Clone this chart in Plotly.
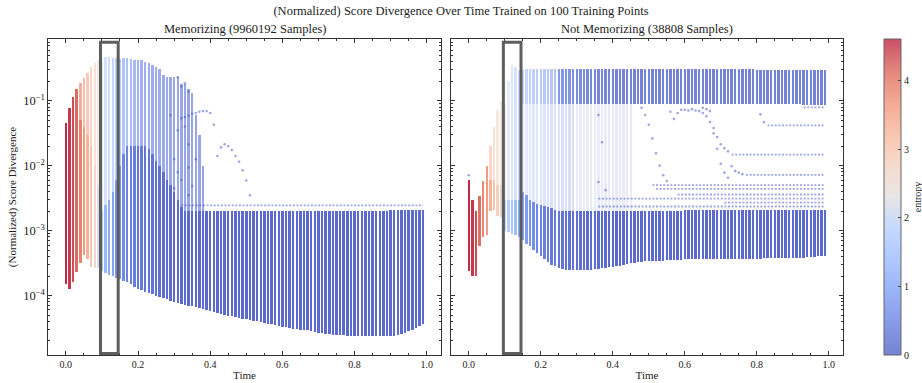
import plotly.graph_objects as go

# ---------------- data ----------------
TIME = [
    0.00, 0.01, 0.02, 0.03, 0.04, 0.05, 0.06, 0.07, 0.08, 0.09,
    0.10, 0.11, 0.12, 0.13, 0.14, 0.15, 0.16, 0.17, 0.18, 0.19,
    0.20, 0.21, 0.22, 0.23, 0.24, 0.25, 0.26, 0.27, 0.28, 0.29,
    0.30, 0.31, 0.32, 0.33, 0.34, 0.35, 0.36, 0.37, 0.38, 0.39,
    0.40, 0.41, 0.42, 0.43, 0.44, 0.45, 0.46, 0.47, 0.48, 0.49,
    0.50, 0.51, 0.52, 0.53, 0.54, 0.55, 0.56, 0.57, 0.58, 0.59,
    0.60, 0.61, 0.62, 0.63, 0.64, 0.65, 0.66, 0.67, 0.68, 0.69,
    0.70, 0.71, 0.72, 0.73, 0.74, 0.75, 0.76, 0.77, 0.78, 0.79,
    0.80, 0.81, 0.82, 0.83, 0.84, 0.85, 0.86, 0.87, 0.88, 0.89,
    0.90, 0.91, 0.92, 0.93, 0.94, 0.95, 0.96, 0.97, 0.98, 0.99,
]

# ---- Memorizing panel: dense core, sparse upper part, entropies ----
L_CORE_LO = [
    1.5e-4, 1.26e-4, 1.6e-4, 2.3e-4, 3.2e-4, 4.2e-4, 3.6e-4, 2.8e-4, 2.7e-4, 2.7e-4,
    2.35e-4, 2.2e-4, 2.1e-4, 2.0e-4, 1.85e-4, 1.8e-4, 1.7e-4, 1.6e-4, 1.5e-4, 1.35e-4,
    1.25e-4, 1.2e-4, 1.15e-4, 1.1e-4, 1.05e-4, 1.0e-4, 9.6e-5, 9.3e-5, 9.0e-5, 8.3e-5,
    8.0e-5, 7.8e-5, 7.5e-5, 7.2e-5, 7.0e-5, 6.8e-5, 6.6e-5, 6.4e-5, 6.2e-5, 6.0e-5,
    5.8e-5, 5.6e-5, 5.4e-5, 5.2e-5, 5.0e-5, 4.9e-5, 4.8e-5, 4.6e-5, 4.5e-5, 4.4e-5,
    4.3e-5, 4.2e-5, 4.1e-5, 4.0e-5, 3.9e-5, 3.8e-5, 3.7e-5, 3.6e-5, 3.5e-5, 3.4e-5,
    3.3e-5, 3.25e-5, 3.2e-5, 3.1e-5, 3.05e-5, 3.0e-5, 2.95e-5, 2.9e-5, 2.8e-5, 2.75e-5,
    2.7e-5, 2.65e-5, 2.6e-5, 2.55e-5, 2.5e-5, 2.5e-5, 2.45e-5, 2.45e-5, 2.4e-5, 2.4e-5,
    2.4e-5, 2.35e-5, 2.35e-5, 2.35e-5, 2.35e-5, 2.35e-5, 2.35e-5, 2.35e-5, 2.35e-5, 2.35e-5,
    2.4e-5, 2.4e-5, 2.5e-5, 2.6e-5, 2.7e-5, 2.85e-5, 3.0e-5, 3.2e-5, 3.4e-5, 3.7e-5,
]
L_CORE_HI = [
    0.046, 0.078, 0.116, 0.15, 0.05, 0.04, 0.03, 0.02, 0.01, 5e-3,
    2e-3, 2.5e-3, 3e-3, 4e-3, 6e-3, 0.01, 0.015, 0.02, 0.02, 0.02,
    0.02, 0.02, 0.02, 0.018, 0.015, 0.012, 0.01, 8e-3, 6e-3, 5e-3,
    4e-3, 3e-3, 2.3e-3, 2.0e-3, 2.0e-3, 2.0e-3, 2.0e-3, 2.0e-3, 2.0e-3, 2.0e-3,
    2.0e-3, 2.0e-3, 2.0e-3, 2.0e-3, 2.0e-3, 2.0e-3, 2.0e-3, 2.0e-3, 2.0e-3, 2.0e-3,
    2.0e-3, 2.0e-3, 2.0e-3, 2.0e-3, 2.0e-3, 2.0e-3, 2.0e-3, 2.0e-3, 2.0e-3, 2.0e-3,
    2.0e-3, 2.0e-3, 2.0e-3, 2.0e-3, 2.0e-3, 2.0e-3, 2.0e-3, 2.0e-3, 2.0e-3, 2.0e-3,
    2.0e-3, 2.0e-3, 2.0e-3, 2.0e-3, 2.0e-3, 2.0e-3, 2.0e-3, 2.0e-3, 2.0e-3, 2.0e-3,
    2.0e-3, 2.0e-3, 2.0e-3, 2.0e-3, 2.0e-3, 2.0e-3, 2.0e-3, 2.0e-3, 2.0e-3, 2.0e-3,
    2.05e-3, 2.05e-3, 2.05e-3, 2.05e-3, 2.05e-3, 2.05e-3, 2.05e-3, 2.05e-3, 2.05e-3, 2.05e-3,
]
L_TOP_HI = [
    0.046, 0.078, 0.116, 0.15, 0.19, 0.22, 0.27, 0.33, 0.38, 0.42,
    0.45, 0.47, 0.47, 0.46, 0.45, 0.44, 0.45, 0.45, 0.44, 0.43,
    0.42, 0.42, 0.40, 0.38, 0.36, 0.33, 0.31, 0.25, 0.23, 0.23,
    0.23, 0.23, 0.18, 0.18, 0.15, 0.13, 0.06, 0.03, 0.01, 2.0e-3,
    2.0e-3, 2.0e-3, 2.0e-3, 2.0e-3, 2.0e-3, 2.0e-3, 2.0e-3, 2.0e-3, 2.0e-3, 2.0e-3,
    2.0e-3, 2.0e-3, 2.0e-3, 2.0e-3, 2.0e-3, 2.0e-3, 2.0e-3, 2.0e-3, 2.0e-3, 2.0e-3,
    2.0e-3, 2.0e-3, 2.0e-3, 2.0e-3, 2.0e-3, 2.0e-3, 2.0e-3, 2.0e-3, 2.0e-3, 2.0e-3,
    2.0e-3, 2.0e-3, 2.0e-3, 2.0e-3, 2.0e-3, 2.0e-3, 2.0e-3, 2.0e-3, 2.0e-3, 2.0e-3,
    2.0e-3, 2.0e-3, 2.0e-3, 2.0e-3, 2.0e-3, 2.0e-3, 2.0e-3, 2.0e-3, 2.0e-3, 2.0e-3,
    2.05e-3, 2.05e-3, 2.05e-3, 2.05e-3, 2.05e-3, 2.05e-3, 2.05e-3, 2.05e-3, 2.05e-3, 2.05e-3,
]
L_ENT_CORE = [
    4.6, 4.5, 4.35, 4.15, 3.9, 3.6, 3.3, 3.0, 2.6, 2.2,
    1.5, 1.3, 1.1, 0.95, 0.8, 0.65, 0.55, 0.45, 0.4, 0.35,
    0.3, 0.28, 0.25, 0.22, 0.2, 0.18, 0.16, 0.14, 0.12, 0.1,
    0.1, 0.09, 0.08, 0.07, 0.06, 0.05, 0.05, 0.05, 0.05, 0.05,
    0.05, 0.05, 0.05, 0.05, 0.05, 0.05, 0.05, 0.05, 0.05, 0.05,
    0.05, 0.05, 0.05, 0.05, 0.05, 0.05, 0.05, 0.05, 0.05, 0.05,
    0.05, 0.05, 0.05, 0.05, 0.05, 0.05, 0.05, 0.05, 0.05, 0.05,
    0.05, 0.05, 0.05, 0.05, 0.05, 0.05, 0.05, 0.05, 0.05, 0.05,
    0.05, 0.05, 0.05, 0.05, 0.05, 0.05, 0.05, 0.05, 0.05, 0.05,
    0.05, 0.05, 0.05, 0.05, 0.05, 0.05, 0.05, 0.05, 0.05, 0.05,
]
L_ENT_TOP = [
    4.6, 4.5, 4.35, 4.15, 3.9, 3.65, 3.4, 3.1, 2.8, 2.45,
    2.1, 1.9, 1.7, 1.5, 1.3, 1.1, 0.95, 0.85, 0.75, 0.65,
    0.55, 0.5, 0.45, 0.42, 0.4, 0.38, 0.35, 0.32, 0.3, 0.28,
    0.26, 0.25, 0.24, 0.22, 0.2, 0.2, 0.2, 0.2, 0.2, 0.2,
    0.2, 0.2, 0.2, 0.2, 0.2, 0.2, 0.2, 0.2, 0.2, 0.2,
    0.2, 0.2, 0.2, 0.2, 0.2, 0.2, 0.2, 0.2, 0.2, 0.2,
    0.2, 0.2, 0.2, 0.2, 0.2, 0.2, 0.2, 0.2, 0.2, 0.2,
    0.2, 0.2, 0.2, 0.2, 0.2, 0.2, 0.2, 0.2, 0.2, 0.2,
    0.2, 0.2, 0.2, 0.2, 0.2, 0.2, 0.2, 0.2, 0.2, 0.2,
    0.2, 0.2, 0.2, 0.2, 0.2, 0.2, 0.2, 0.2, 0.2, 0.2,
]
# horizontal rows of isolated points (value, first time, last time)
L_ROW_Y = [2.45e-3]
L_ROW_T0 = [0.32]
L_ROW_T1 = [0.99]
# isolated trajectory points
L_OUT_T = [0.32, 0.33, 0.34, 0.35, 0.36, 0.37, 0.38, 0.39, 0.40, 0.41,
           0.42, 0.43, 0.44, 0.45, 0.46, 0.47, 0.48, 0.49, 0.50, 0.51,
           0.31, 0.32, 0.33, 0.34, 0.33, 0.34, 0.36, 0.34, 0.35, 0.34,
           0.30, 0.31, 0.30, 0.32, 0.31, 0.29]
L_OUT_Y = [0.0537, 0.0562, 0.0589, 0.0631, 0.0646, 0.0676, 0.0692, 0.0692, 0.0646, 0.0427,
           0.0141, 0.0191, 0.0214, 0.0200, 0.0174, 0.0141, 0.0115, 0.0085, 0.0059, 0.0035,
           0.23, 0.166, 0.186, 0.138, 0.04, 0.0214, 0.0126, 0.0093, 0.0049, 0.0035,
           0.0126, 0.0079, 0.0045, 0.006, 0.035, 0.06]

# ---- Not memorizing panel ----
R_CORE_LO = [
    2.4e-4, 2.0e-4, 2.0e-4, 5.8e-4, 8.0e-4, 8.7e-4, 2.0e-3, 2.1e-3, 1.7e-3, 1.6e-3,
    1.0e-3, 9.5e-4, 9.0e-4, 8.5e-4, 8.0e-4, 7.2e-4, 6.3e-4, 5.8e-4, 5.1e-4, 4.5e-4,
    4.0e-4, 3.6e-4, 3.3e-4, 3.0e-4, 2.85e-4, 2.7e-4, 2.6e-4, 2.5e-4, 2.5e-4, 2.5e-4,
    2.5e-4, 2.5e-4, 2.5e-4, 2.5e-4, 2.5e-4, 2.55e-4, 2.6e-4, 2.65e-4, 2.7e-4, 2.75e-4,
    2.8e-4, 2.85e-4, 2.9e-4, 3.0e-4, 3.1e-4, 3.15e-4, 3.2e-4, 3.25e-4, 3.3e-4, 3.35e-4,
    3.4e-4, 3.4e-4, 3.45e-4, 3.45e-4, 3.45e-4, 3.5e-4, 3.5e-4, 3.5e-4, 3.55e-4, 3.55e-4,
    3.6e-4, 3.6e-4, 3.6e-4, 3.6e-4, 3.6e-4, 3.6e-4, 3.6e-4, 3.6e-4, 3.6e-4, 3.6e-4,
    3.65e-4, 3.65e-4, 3.7e-4, 3.7e-4, 3.7e-4, 3.7e-4, 3.7e-4, 3.7e-4, 3.7e-4, 3.7e-4,
    3.7e-4, 3.7e-4, 3.75e-4, 3.75e-4, 3.75e-4, 3.75e-4, 3.8e-4, 3.8e-4, 3.8e-4, 3.8e-4,
    3.8e-4, 3.8e-4, 3.85e-4, 3.85e-4, 3.9e-4, 3.9e-4, 3.95e-4, 4.0e-4, 4.05e-4, 4.1e-4,
]
R_CORE_HI = [
    6.0e-3, 3.0e-3, 2.0e-3, 3.4e-3, 5.8e-3, 9.8e-3, 6.0e-3, 6.0e-3, 5.0e-3, 5.0e-3,
    3.0e-3, 3.0e-3, 3.0e-3, 3.0e-3, 3.0e-3, 4.0e-3, 3.5e-3, 3.0e-3, 2.8e-3, 2.6e-3,
    2.5e-3, 2.4e-3, 2.3e-3, 2.2e-3, 2.1e-3, 2.0e-3, 2.0e-3, 2.0e-3, 2.0e-3, 2.0e-3,
    2.0e-3, 2.0e-3, 2.0e-3, 2.0e-3, 2.0e-3, 2.0e-3, 2.0e-3, 2.0e-3, 2.0e-3, 2.0e-3,
    2.0e-3, 2.0e-3, 2.0e-3, 2.0e-3, 2.0e-3, 2.0e-3, 2.0e-3, 2.0e-3, 2.0e-3, 2.0e-3,
    2.0e-3, 2.0e-3, 2.0e-3, 2.0e-3, 2.0e-3, 2.0e-3, 2.0e-3, 2.0e-3, 2.0e-3, 2.0e-3,
    2.05e-3, 2.05e-3, 2.05e-3, 2.05e-3, 2.05e-3, 2.05e-3, 2.05e-3, 2.05e-3, 2.05e-3, 2.05e-3,
    2.05e-3, 2.05e-3, 2.05e-3, 2.05e-3, 2.05e-3, 2.05e-3, 2.05e-3, 2.05e-3, 2.05e-3, 2.05e-3,
    2.1e-3, 2.1e-3, 2.1e-3, 2.1e-3, 2.1e-3, 2.1e-3, 2.1e-3, 2.1e-3, 2.1e-3, 2.1e-3,
    2.1e-3, 2.1e-3, 2.1e-3, 2.1e-3, 2.1e-3, 2.1e-3, 2.1e-3, 2.1e-3, 2.1e-3, 2.1e-3,
]
R_TOP_HI = [
    6.0e-3, 3.0e-3, 2.0e-3, 3.4e-3, 5.8e-3, 9.8e-3, 0.02, 0.04, 0.072, 0.098,
    0.09, 0.2, 0.35, 0.33, 0.3, 0.09, 0.09, 0.09, 0.09, 0.09,
    0.09, 0.09, 0.09, 0.09, 0.09, 0.09, 0.09, 0.09, 0.09, 0.09,
    0.09, 0.09, 0.09, 0.09, 0.09, 0.09, 0.09, 0.09, 0.09, 0.09,
    0.09, 0.09, 0.09, 0.09, 0.09, 0.09, 2.0e-3, 2.0e-3, 2.0e-3, 2.0e-3,
    2.0e-3, 2.0e-3, 2.0e-3, 2.0e-3, 2.0e-3, 2.0e-3, 2.0e-3, 2.0e-3, 2.0e-3, 2.0e-3,
    2.05e-3, 2.05e-3, 2.05e-3, 2.05e-3, 2.05e-3, 2.05e-3, 2.05e-3, 2.05e-3, 2.05e-3, 2.05e-3,
    2.05e-3, 2.05e-3, 2.05e-3, 2.05e-3, 2.05e-3, 2.05e-3, 2.05e-3, 2.05e-3, 2.05e-3, 2.05e-3,
    2.1e-3, 2.1e-3, 2.1e-3, 2.1e-3, 2.1e-3, 2.1e-3, 2.1e-3, 2.1e-3, 2.1e-3, 2.1e-3,
    2.1e-3, 2.1e-3, 2.1e-3, 2.1e-3, 2.1e-3, 2.1e-3, 2.1e-3, 2.1e-3, 2.1e-3, 2.1e-3,
]
R_BAND_LO = [
    None, None, None, None, None, None, None, None, None, None,
    None, None, None, None, None, 0.09, 0.09, 0.09, 0.09, 0.09,
    0.09, 0.09, 0.09, 0.09, 0.09, 0.09, 0.09, 0.09, 0.09, 0.09,
    0.09, 0.09, 0.09, 0.09, 0.09, 0.09, 0.09, 0.09, 0.09, 0.09,
    0.09, 0.09, 0.09, 0.09, 0.09, 0.09, 0.09, 0.09, 0.09, 0.09,
    0.09, 0.09, 0.09, 0.09, 0.09, 0.09, 0.09, 0.09, 0.09, 0.09,
    0.09, 0.09, 0.09, 0.09, 0.09, 0.09, 0.09, 0.09, 0.09, 0.09,
    0.09, 0.09, 0.09, 0.09, 0.09, 0.09, 0.09, 0.09, 0.09, 0.09,
    0.09, 0.09, 0.09, 0.09, 0.09, 0.09, 0.09, 0.09, 0.09, 0.09,
    0.09, 0.09, 0.09, 0.087, 0.087, 0.087, 0.087, 0.087, 0.087, 0.087,
]
R_BAND_HI = [
    None, None, None, None, None, None, None, None, None, None,
    None, None, None, None, None, 0.30, 0.31, 0.31, 0.31, 0.31,
    0.31, 0.31, 0.31, 0.31, 0.31, 0.31, 0.31, 0.31, 0.31, 0.31,
    0.31, 0.31, 0.31, 0.31, 0.31, 0.31, 0.31, 0.31, 0.31, 0.31,
    0.31, 0.31, 0.31, 0.31, 0.31, 0.31, 0.31, 0.31, 0.31, 0.31,
    0.31, 0.31, 0.31, 0.31, 0.31, 0.31, 0.31, 0.31, 0.31, 0.31,
    0.31, 0.31, 0.31, 0.31, 0.31, 0.31, 0.31, 0.31, 0.31, 0.31,
    0.31, 0.31, 0.31, 0.31, 0.31, 0.31, 0.31, 0.31, 0.31, 0.31,
    0.30, 0.30, 0.30, 0.30, 0.30, 0.30, 0.30, 0.30, 0.30, 0.30,
    0.30, 0.30, 0.30, 0.30, 0.30, 0.30, 0.30, 0.30, 0.30, 0.30,
]
R_ENT_CORE = [
    4.6, 4.5, 4.35, 4.1, 3.85, 3.6, 3.3, 3.05, 2.8, 2.55,
    2.0, 1.8, 1.6, 1.4, 1.2, 1.0, 0.85, 0.7, 0.6, 0.5,
    0.45, 0.4, 0.35, 0.3, 0.28, 0.25, 0.22, 0.2, 0.18, 0.16,
    0.15, 0.14, 0.13, 0.12, 0.11, 0.1, 0.1, 0.09, 0.08, 0.07,
    0.06, 0.05, 0.05, 0.05, 0.05, 0.05, 0.05, 0.05, 0.05, 0.05,
    0.05, 0.05, 0.05, 0.05, 0.05, 0.05, 0.05, 0.05, 0.05, 0.05,
    0.05, 0.05, 0.05, 0.05, 0.05, 0.05, 0.05, 0.05, 0.05, 0.05,
    0.05, 0.05, 0.05, 0.05, 0.05, 0.05, 0.05, 0.05, 0.05, 0.05,
    0.05, 0.05, 0.05, 0.05, 0.05, 0.05, 0.05, 0.05, 0.05, 0.05,
    0.05, 0.05, 0.05, 0.05, 0.05, 0.05, 0.05, 0.05, 0.05, 0.05,
]
R_ENT_TOP = [
    4.6, 4.5, 4.35, 4.1, 3.85, 3.6, 3.3, 3.05, 2.8, 2.55,
    2.3, 2.1, 1.9, 1.7, 1.5, 1.3, 1.2, 1.1, 1.0, 0.9,
    0.8, 0.75, 0.7, 0.65, 0.6, 0.55, 0.5, 0.45, 0.4, 0.35,
    0.3, 0.28, 0.26, 0.24, 0.22, 0.2, 0.18, 0.16, 0.15, 0.14,
    0.13, 0.12, 0.11, 0.1, 0.1, 0.1, 0.1, 0.1, 0.1, 0.1,
    0.1, 0.1, 0.1, 0.1, 0.1, 0.1, 0.1, 0.1, 0.1, 0.1,
    0.1, 0.1, 0.1, 0.1, 0.1, 0.1, 0.1, 0.1, 0.1, 0.1,
    0.1, 0.1, 0.1, 0.1, 0.1, 0.1, 0.1, 0.1, 0.1, 0.1,
    0.1, 0.1, 0.1, 0.1, 0.1, 0.1, 0.1, 0.1, 0.1, 0.1,
    0.1, 0.1, 0.1, 0.1, 0.1, 0.1, 0.1, 0.1, 0.1, 0.1,
]
R_ROW_Y = [0.0417, 0.0148, 7.2e-3, 5.0e-3, 4.4e-3, 3.6e-3, 3.1e-3, 2.7e-3, 2.35e-3, 0.079]
R_ROW_T0 = [0.83, 0.73, 0.77, 0.51, 0.52, 0.58, 0.36, 0.71, 0.36, 0.93]
R_ROW_T1 = [0.99, 0.99, 0.99, 0.99, 0.99, 0.99, 0.99, 0.99, 0.99, 0.99]
R_OUT_T = [0.00, 0.36, 0.37, 0.36, 0.38,
           0.48, 0.49, 0.50, 0.51, 0.52, 0.53, 0.54, 0.55,
           0.56, 0.57, 0.58, 0.59, 0.60, 0.61, 0.62, 0.63, 0.64, 0.65, 0.66, 0.67, 0.68,
           0.69, 0.70, 0.71, 0.72,
           0.65, 0.66, 0.67, 0.68, 0.69, 0.70, 0.71, 0.72, 0.73, 0.74, 0.75, 0.76,
           0.81, 0.82]
R_OUT_Y = [0.0071, 0.0603, 0.0229, 0.0056, 0.0042,
           0.0776, 0.0603, 0.0427, 0.0263, 0.0155, 0.0100, 0.0071, 0.0058,
           0.0676, 0.0525, 0.0646, 0.0724, 0.0724, 0.0708, 0.0741, 0.0708, 0.0692, 0.0646, 0.0575, 0.0468, 0.0380,
           0.0275, 0.0214, 0.0186, 0.0166,
           0.0776, 0.0741, 0.0692, 0.0316, 0.0182, 0.0107, 0.0078, 0.0065, 0.0098, 0.0083, 0.0078, 0.0074,
           0.0617, 0.0468]

ENTROPY_MAX = 4.605
TITLE = "(Normalized) Score Divergence Over Time Trained on 100 Training Points"
SUB_LEFT = "Memorizing (9960192 Samples)"
SUB_RIGHT = "Not Memorizing (38808 Samples)"
BOX_T0, BOX_T1 = 0.096, 0.145

# ---------------- styling ----------------
FONT = "Liberation Serif"
COOLWARM = [(0.0, (59, 76, 192)), (0.1, (83, 110, 221)), (0.2, (111, 146, 243)),
            (0.3, (141, 176, 254)), (0.4, (170, 199, 253)), (0.5, (221, 220, 220)),
            (0.6, (242, 203, 183)), (0.7, (247, 172, 142)), (0.8, (238, 132, 104)),
            (0.9, (214, 82, 68)), (1.0, (180, 4, 38))]
SCALE = [[p, "rgb(%d,%d,%d)" % c] for p, c in COOLWARM]
ALPHA = 0.7
SCALE_BAR = [[p, "rgb(%d,%d,%d)" % tuple(round(v * ALPHA + 255 * (1 - ALPHA)) for v in c)]
             for p, c in COOLWARM]
BAR_W = 0.0068
DOT_BLUE = "rgba(62,80,198,0.5)"


def seg_bars(lo, hi, ent, opac, xa, ya):
    """opac: function of time -> opacity (styling only)."""
    xs, base, h, col, op = [], [], [], [], []
    for t, a, b, e in zip(TIME, lo, hi, ent):
        if a is None or b is None or b <= a:
            continue
        xs.append(t)
        base.append(a)
        h.append(b - a)
        col.append(e)
        op.append(opac(t))
    return go.Bar(x=xs, y=h, base=base, width=BAR_W, xaxis=xa, yaxis=ya,
                  marker=dict(color=col, colorscale=SCALE, cmin=0, cmax=ENTROPY_MAX,
                              opacity=op, line=dict(width=0)),
                  showlegend=False, hoverinfo="skip")


def rows(ys, t0s, t1s, xa, ya):
    xx, yy = [], []
    for y, a, b in zip(ys, t0s, t1s):
        xx += [a, b, None]
        yy += [y, y, None]
    return go.Scatter(x=xx, y=yy, mode="lines", xaxis=xa, yaxis=ya,
                      line=dict(color=DOT_BLUE, width=1.8, dash="2px,1.6px"),
                      showlegend=False, hoverinfo="skip")


def outliers(ts, ys, xa, ya):
    return go.Scatter(x=ts, y=ys, mode="markers", xaxis=xa, yaxis=ya,
                      marker=dict(size=2.6, color=DOT_BLUE, line=dict(width=0)),
                      showlegend=False, hoverinfo="skip")


fig = go.Figure()
# left panel
fig.add_trace(seg_bars(L_CORE_HI, L_TOP_HI, L_ENT_TOP, lambda t: 0.55, "x", "y"))
fig.add_trace(seg_bars(L_CORE_LO, L_CORE_HI, L_ENT_CORE, lambda t: 0.85, "x", "y"))
fig.add_trace(rows(L_ROW_Y, L_ROW_T0, L_ROW_T1, "x", "y"))
fig.add_trace(outliers(L_OUT_T, L_OUT_Y, "x", "y"))
# right panel
fig.add_trace(seg_bars(R_CORE_HI, R_TOP_HI, R_ENT_TOP,
                       lambda t: 0.45 if t < 0.15 else (0.22 if t < 0.3 else 0.12), "x2", "y2"))
fig.add_trace(seg_bars(R_BAND_LO, R_BAND_HI, R_ENT_TOP,
                       lambda t: 0.45 if t < 0.25 else 0.72, "x2", "y2"))
fig.add_trace(seg_bars(R_CORE_LO, R_CORE_HI, R_ENT_CORE, lambda t: 0.85, "x2", "y2"))
fig.add_trace(rows(R_ROW_Y, R_ROW_T0, R_ROW_T1, "x2", "y2"))
fig.add_trace(outliers(R_OUT_T, R_OUT_Y, "x2", "y2"))

# colorbar carrier
fig.add_trace(go.Scatter(
    x=[TIME[0]], y=[L_CORE_LO[0]], mode="markers", xaxis="x", yaxis="y",
    marker=dict(size=1, opacity=0, color=[L_ENT_CORE[0]], colorscale=SCALE_BAR,
                cmin=0, cmax=ENTROPY_MAX, showscale=True,
                colorbar=dict(x=1.0516, xanchor="left", xpad=0, y=0.5, yanchor="middle",
                              ypad=0, len=1.0, lenmode="fraction", thickness=17,
                              outlinewidth=1, outlinecolor="#666",
                              tickvals=[0, 1, 2, 3, 4], ticks="inside", ticklen=3,
                              tickcolor="#444", tickfont=dict(size=10),
                              title=dict(text="entropy", side="right",
                                         font=dict(size=10)))),
    showlegend=False, hoverinfo="skip"))

AX_LINE = "#333"
x_common = dict(range=[-0.0495, 1.0395], dtick=0.2, tickformat=".1f", ticks="inside",
                ticklen=4, tickcolor=AX_LINE, showline=True, linecolor=AX_LINE,
                linewidth=1, mirror="allticks", showgrid=False, zeroline=False,
                automargin=False,
                minor=dict(dtick=0.05, ticks="inside", ticklen=2, tickcolor=AX_LINE),
                tickfont=dict(size=10), title=dict(text="Time", font=dict(size=11), standoff=2))
y_common = dict(type="log", range=[-4.915, -0.05], dtick=1, exponentformat="power",
                ticks="inside", ticklen=4, tickcolor=AX_LINE, showline=True,
                linecolor=AX_LINE, linewidth=1, mirror="allticks", showgrid=False,
                zeroline=False, tickfont=dict(size=10), automargin=False,
                minor=dict(ticks="inside", ticklen=2, tickcolor=AX_LINE))

fig.update_layout(
    width=922, height=383,
    margin=dict(l=48, r=79, t=39, b=28, autoexpand=False),
    paper_bgcolor="white", plot_bgcolor="white",
    font=dict(family=FONT, color="#222", size=11),
    barmode="overlay", bargap=0,
    title=dict(text=TITLE, x=0.5, xanchor="center", xref="container",
               y=0.972, yanchor="middle", yref="container", font=dict(size=12.5)),
    xaxis=dict(domain=[0.0, 0.4943], anchor="y", **x_common),
    xaxis2=dict(domain=[0.5069, 1.0], anchor="y2", **x_common),
    yaxis=dict(domain=[0, 1], anchor="x",
               title=dict(text="(Normalized) Score Divergence", font=dict(size=11), standoff=4),
               **y_common),
    yaxis2=dict(domain=[0, 1], anchor="x2", matches="y", showticklabels=False, **y_common),
    annotations=[
        dict(text=SUB_LEFT, x=0.2472, xref="paper", y=1.0, yref="paper", yanchor="bottom",
             xanchor="center", showarrow=False, font=dict(size=12.5), yshift=1),
        dict(text=SUB_RIGHT, x=0.7535, xref="paper", y=1.0, yref="paper", yanchor="bottom",
             xanchor="center", showarrow=False, font=dict(size=12.5), yshift=1),
    ],
    shapes=[
        dict(type="rect", xref="x", yref="y domain", x0=BOX_T0, x1=BOX_T1, y0=0.005, y1=0.99,
             line=dict(color="rgba(85,85,85,0.95)", width=3), layer="above"),
        dict(type="rect", xref="x2", yref="y2 domain", x0=BOX_T0, x1=BOX_T1, y0=0.005, y1=0.99,
             line=dict(color="rgba(85,85,85,0.95)", width=3), layer="above"),
    ],
)

fig.write_html(
    "out.html",
    config={"displayModeBar": False},
    post_script="document.body.style.margin='0';document.body.style.overflow='hidden';",
)
